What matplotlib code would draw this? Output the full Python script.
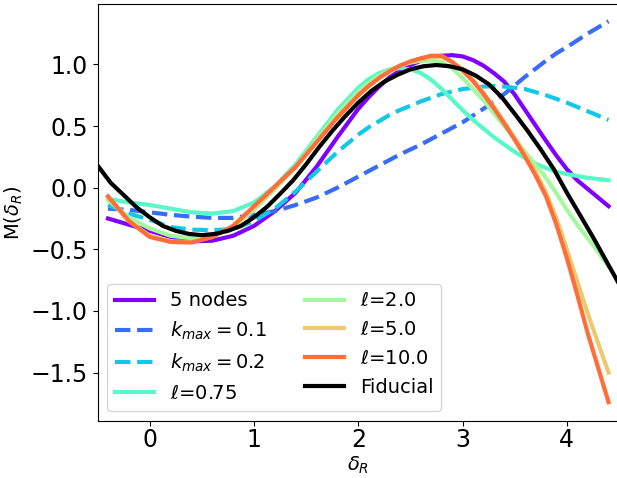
import numpy as np
import matplotlib
matplotlib.use('Agg')
import matplotlib.pyplot as plt

# x grid shared by the seven model curves (finer where they bend most)
x = [-0.4, -0.2, 0.0, 0.2, 0.4, 0.6, 0.8, 1.0, 1.2, 1.4, 1.6, 1.8, 2.0,
     2.1, 2.2, 2.3, 2.4, 2.5, 2.6, 2.7, 2.8, 2.9, 3.0, 3.1, 3.2, 3.3, 3.4,
     3.5, 3.6, 3.7, 3.8, 3.9, 4.0, 4.1, 4.2, 4.3, 4.4]

nodes5 = [-0.25, -0.30, -0.35, -0.40, -0.435, -0.43, -0.39, -0.31, -0.19, -0.04, 0.17, 0.41, 0.64,
          0.735, 0.82, 0.895, 0.95, 0.995, 1.03, 1.055, 1.07, 1.075, 1.065, 1.035, 0.99, 0.93, 0.86,
          0.755, 0.63, 0.505, 0.38, 0.26, 0.15, 0.06, -0.01, -0.08, -0.15]
kmax01 = [-0.17, -0.18, -0.20, -0.22, -0.235, -0.245, -0.245, -0.22, -0.19, -0.14, -0.08, 0.0, 0.09,
          0.135, 0.18, 0.225, 0.27, 0.31, 0.35, 0.395, 0.44, 0.485, 0.53, 0.585, 0.64, 0.70, 0.76,
          0.83, 0.90, 0.965, 1.03, 1.09, 1.14, 1.195, 1.25, 1.30, 1.35]
kmax02 = [-0.14, -0.21, -0.26, -0.32, -0.34, -0.345, -0.335, -0.27, -0.17, -0.03, 0.13, 0.29, 0.43,
          0.49, 0.54, 0.59, 0.63, 0.665, 0.70, 0.73, 0.76, 0.78, 0.80, 0.81, 0.82, 0.825, 0.82,
          0.81, 0.80, 0.775, 0.75, 0.72, 0.69, 0.655, 0.62, 0.585, 0.55]
ell075 = [-0.09, -0.12, -0.14, -0.17, -0.20, -0.21, -0.19, -0.12, 0.01, 0.19, 0.41, 0.63, 0.81,
          0.88, 0.93, 0.96, 0.97, 0.96, 0.93, 0.875, 0.80, 0.715, 0.63, 0.55, 0.48, 0.41, 0.35,
          0.29, 0.24, 0.195, 0.16, 0.13, 0.11, 0.095, 0.08, 0.07, 0.06]
ell2 = [-0.10, -0.24, -0.33, -0.39, -0.41, -0.39, -0.32, -0.18, -0.01, 0.17, 0.39, 0.60, 0.78,
        0.85, 0.91, 0.955, 0.99, 1.015, 1.03, 1.03, 1.02, 0.97, 0.89, 0.80, 0.71, 0.605, 0.50,
        0.395, 0.29, 0.185, 0.08, -0.045, -0.18, -0.30, -0.41, -0.52, -0.64]
ell5 = [-0.08, -0.27, -0.39, -0.435, -0.44, -0.40, -0.31, -0.16, 0.0, 0.17, 0.37, 0.57, 0.75,
        0.825, 0.89, 0.945, 0.99, 1.02, 1.04, 1.06, 1.06, 1.02, 0.96, 0.875, 0.77, 0.655, 0.53,
        0.40, 0.27, 0.13, -0.04, -0.25, -0.50, -0.76, -1.02, -1.26, -1.50]
ell10 = [-0.07, -0.27, -0.40, -0.44, -0.445, -0.40, -0.31, -0.15, 0.01, 0.17, 0.37, 0.57, 0.75,
         0.825, 0.89, 0.945, 0.99, 1.025, 1.05, 1.07, 1.07, 1.02, 0.95, 0.865, 0.76, 0.645, 0.52,
         0.39, 0.25, 0.10, -0.07, -0.30, -0.57, -0.87, -1.18, -1.46, -1.74]

# fiducial curve runs past both edges of the axes
x_fid = [-0.5, -0.375, -0.25, -0.125, 0.0, 0.125, 0.25, 0.375, 0.5, 0.625, 0.75, 0.875,
         1.0, 1.125, 1.25, 1.375, 1.5, 1.625, 1.75, 1.875, 2.0, 2.125, 2.25, 2.375,
         2.5, 2.625, 2.75, 2.875, 3.0, 3.125, 3.25, 3.375, 3.5, 3.625, 3.75, 3.875,
         4.0, 4.125, 4.25, 4.375, 4.5]
fiducial = [0.18, 0.04, -0.06, -0.16, -0.24, -0.31, -0.35, -0.375, -0.385, -0.375, -0.35, -0.31,
            -0.24, -0.155, -0.05, 0.06, 0.19, 0.33, 0.46, 0.58, 0.69, 0.785, 0.86, 0.915,
            0.96, 0.985, 0.995, 0.985, 0.96, 0.91, 0.84, 0.735, 0.60, 0.46, 0.31, 0.15,
            -0.04, -0.22, -0.40, -0.59, -0.78]

labels = ['5 nodes', r'$k_{max}=0.1$', r'$k_{max}=0.2$', r'$\ell$=0.75',
          r'$\ell$=2.0', r'$\ell$=5.0', r'$\ell$=10.0']
styles = ['-', '--', '--', '-', '-', '-', '-']
series = [nodes5, kmax01, kmax02, ell075, ell2, ell5, ell10]

colors = plt.cm.rainbow(np.linspace(0, 1, 8))

fig = plt.figure(figsize=(6.17, 4.78), dpi=100)
ax = fig.add_axes([0.1582, 0.1199, 0.845, 0.8707])

for i, (y, lab, ls) in enumerate(zip(series, labels, styles)):
    ax.plot(x, y, ls, color=colors[i], lw=3, label=lab)
ax.plot(x_fid, fiducial, '-', color='k', lw=3, label='Fiducial')

ax.set_xlim(-0.5, 4.5)
ax.set_ylim(-1.89, 1.486)
ax.set_xticks([0, 1, 2, 3, 4])
ax.set_yticks([-1.5, -1.0, -0.5, 0.0, 0.5, 1.0])
ax.tick_params(labelsize=17)
ax.tick_params(axis='x', pad=1.5)
ax.set_xlabel(r'$\delta_R$', fontsize=14, labelpad=2)
ax.set_ylabel(r'M($\delta_R$)', fontsize=14)
ax.legend(loc='lower left', ncol=2, fontsize=14)

fig.savefig('out.png', dpi=100)
